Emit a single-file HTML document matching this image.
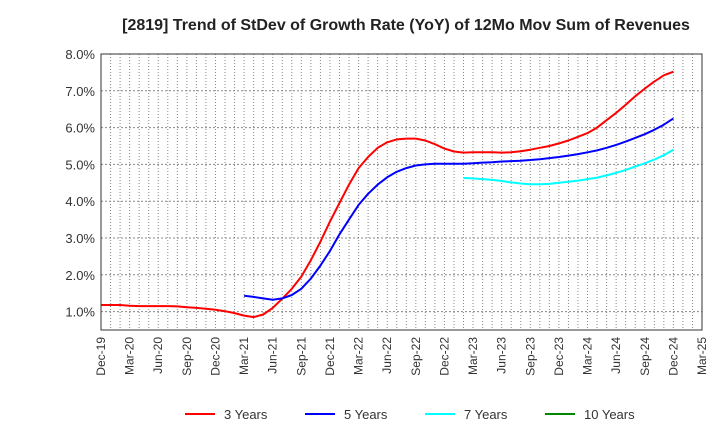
<!DOCTYPE html>
<html><head><meta charset="utf-8"><style>
body{margin:0;background:#fff;font-family:"Liberation Sans",sans-serif}
</style></head><body>
<svg id="c" width="720" height="440" xmlns="http://www.w3.org/2000/svg" font-family="Liberation Sans, sans-serif">
<text x="406" y="30" text-anchor="middle" font-size="16" font-weight="bold" fill="#222">[2819]  Trend of StDev of Growth Rate (YoY) of 12Mo Mov Sum of Revenues</text>
<g id="grid"></g><g id="series"></g><g id="axes"></g>
<g font-size="13" fill="#333">
<line x1="185" y1="414" x2="215" y2="414" stroke="#f00" stroke-width="2"/><text x="224" y="419">3 Years</text>
<line x1="305" y1="414" x2="335" y2="414" stroke="#00f" stroke-width="2"/><text x="344" y="419">5 Years</text>
<line x1="425" y1="414" x2="455" y2="414" stroke="#0ff" stroke-width="2"/><text x="464" y="419">7 Years</text>
<line x1="545" y1="414" x2="575" y2="414" stroke="#080" stroke-width="2"/><text x="584" y="419">10 Years</text>
</g>
</svg>
<script>
const xLabels=["Dec-19","Mar-20","Jun-20","Sep-20","Dec-20","Mar-21","Jun-21","Sep-21","Dec-21","Mar-22","Jun-22","Sep-22","Dec-22","Mar-23","Jun-23","Sep-23","Dec-23","Mar-24","Jun-24","Sep-24","Dec-24","Mar-25"];
const yTicks=[1,2,3,4,5,6,7,8];
const red=[1.18,1.18,1.18,1.16,1.15,1.15,1.15,1.15,1.14,1.12,1.10,1.08,1.05,
1.01,0.96,0.89,0.85,0.92,1.1,1.35,1.62,1.95,2.4,2.9,3.45,
3.95,4.45,4.9,5.2,5.45,5.6,5.68,5.7,5.7,5.65,5.55,5.43,
5.35,5.32,5.33,5.33,5.33,5.32,5.33,5.36,5.4,5.45,5.5,5.57,
5.65,5.75,5.85,6.0,6.2,6.4,6.62,6.85,7.06,7.25,7.42,7.52];
const blueStart=15;
const blue=[1.43,1.40,1.36,1.32,1.36,1.45,1.62,1.9,2.25,2.65,
3.1,3.5,3.9,4.2,4.45,4.65,4.8,4.9,4.97,5.0,5.02,5.02,
5.02,5.02,5.03,5.05,5.06,5.08,5.09,5.1,5.12,5.14,5.17,5.2,
5.24,5.28,5.33,5.38,5.45,5.53,5.62,5.72,5.82,5.94,6.08,6.25];
const cyanStart=38;
const cyan=[4.63,4.62,4.6,4.58,4.55,4.51,4.48,4.46,4.46,4.47,4.5,
4.53,4.56,4.6,4.64,4.7,4.77,4.85,4.94,5.03,5.13,5.25,5.4];
const L=101,R=702,T=54,B=330,months=63;
const X=m=>L+(R-L)*m/months;
const Y=v=>B-(v-0.5)*(B-T)/7.5;
const ns="http://www.w3.org/2000/svg";
function mk(p,t,a){const e=document.createElementNS(ns,t);for(const k in a)e.setAttribute(k,a[k]);p.appendChild(e);return e;}
const g=document.getElementById('grid'),ax=document.getElementById('axes'),s=document.getElementById('series');
for(let m=1;m<months;m++){const l=mk(g,'line',{x1:X(m),x2:X(m),y1:T,y2:B,stroke:'#888','stroke-dasharray':'1,2','stroke-width':1});

}
yTicks.forEach(v=>{const l=mk(g,'line',{x1:L,x2:R,y1:Y(v),y2:Y(v),stroke:'#888','stroke-dasharray':'2,2','stroke-width':1});


const t=mk(ax,'text',{x:L-6,y:Y(v)+5,'text-anchor':'end','font-size':13,fill:'#333'});t.textContent=v.toFixed(1)+'%';

});
xLabels.forEach((lb,i)=>{const x=X(i*3);const t=mk(ax,'text',{x:0,y:0,transform:`translate(${x+4},337) rotate(-90)`,'text-anchor':'end','font-size':12,fill:'#333'});t.textContent=lb;

});
const f=mk(ax,'rect',{x:L,y:T,width:R-L,height:B-T,fill:'none',stroke:'#333','stroke-width':1});


function line(arr,start,col,name){const pts=arr.map((v,i)=>X(start+i).toFixed(1)+','+Y(v).toFixed(1)).join(' ');
const p=mk(s,'polyline',{points:pts,fill:'none',stroke:col,'stroke-width':2,'stroke-linejoin':'round'});

}
line(red,0,'#f00','line-3-years');
line(blue,blueStart,'#00f','line-5-years');
line(cyan,cyanStart,'#0ff','line-7-years');
</script>
</body></html>
